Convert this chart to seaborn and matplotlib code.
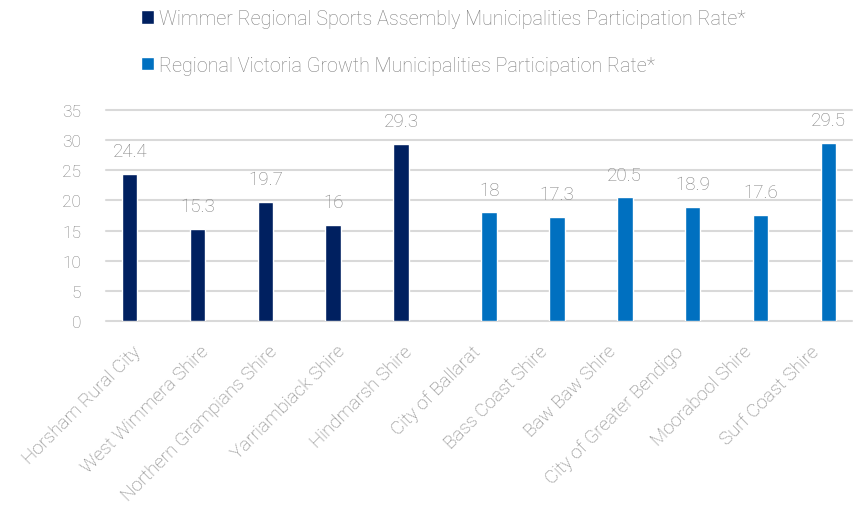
import matplotlib
matplotlib.use("Agg")
import matplotlib.pyplot as plt
import matplotlib.transforms as mtransforms
import seaborn as sns
import pandas as pd

wimmer_names = ["Horsham Rural City", "West Wimmera Shire", "Northern Grampians Shire",
                "Yarriambiack Shire", "Hindmarsh Shire"]
wimmer_values = [24.4, 15.3, 19.7, 16, 29.3]
growth_names = ["City of Ballarat", "Bass Coast Shire", "Baw Baw Shire",
                "City of Greater Bendigo", "Moorabool Shire", "Surf Coast Shire"]
growth_values = [18, 17.3, 20.5, 18.9, 17.6, 29.5]
series_names = ["Wimmer Regional Sports Assembly Municipalities Participation Rate*",
                "Regional Victoria Growth Municipalities Participation Rate*"]
y_ticks = [0, 5, 10, 15, 20, 25, 30, 35]

df = pd.DataFrame({
    "municipality": wimmer_names + growth_names,
    "rate": wimmer_values + growth_values,
    "series": [series_names[0]] * len(wimmer_names) + [series_names[1]] * len(growth_names),
})

sns.set_theme(style="white")
plt.rcParams["font.family"] = ["Roboto", "DejaVu Sans"]
gray = "#808080"

fig = plt.figure(figsize=(8.54, 5.06), dpi=100)
ax = fig.add_axes([106 / 854, 1 - 322 / 506, 746 / 854, 211 / 506])

sns.barplot(data=df, x="municipality", y="rate", hue="series",
            order=wimmer_names + growth_names, hue_order=series_names,
            palette=["#002060", "#0070C0"], saturation=1, width=0.6, gap=0.24,
            dodge=True, ax=ax, legend=True)

for c in ax.containers:
    ax.bar_label(c, fmt="{:g}", padding=10, color=gray, fontsize=13.5,
                 fontweight="light", clip_on=False)

ax.set_ylim(0, 35)
ax.set_xlim(-0.5, 10.5)
ax.set_yticks(y_ticks)
ax.yaxis.grid(True, color="#d9d9d9", linewidth=1.5)
ax.set_axisbelow(True)
for gl in ax.get_ygridlines():
    gl.set_clip_on(False)
for s in ax.spines.values():
    s.set_visible(False)
ax.set_xlabel("")
ax.set_ylabel("")
ax.tick_params(axis="y", colors=gray, labelsize=12.5, length=0, pad=18)
ax.tick_params(axis="x", colors=gray, labelsize=13.5, length=0, pad=15)
for lab in ax.get_yticklabels():
    lab.set_fontweight("light")
shift = mtransforms.ScaledTranslation(-8 / 100, 0, fig.dpi_scale_trans)
for lab in ax.get_xticklabels():
    lab.set_rotation(45)
    lab.set_ha("right")
    lab.set_rotation_mode("anchor")
    lab.set_fontweight("light")
    lab.set_transform(lab.get_transform() + shift)

h, l = ax.get_legend_handles_labels()
ax.get_legend().remove()
leg = fig.legend(h, l, loc="upper left", bbox_to_anchor=(141 / 854, 1 - 10 / 506),
                 frameon=False, fontsize=14.2, labelspacing=1.4, borderpad=0,
                 borderaxespad=0, handlelength=0.66, handleheight=0.66,
                 handletextpad=0.25)
for t in leg.get_texts():
    t.set_color(gray)
    t.set_fontweight("light")

fig.savefig("out.png", dpi=100)
